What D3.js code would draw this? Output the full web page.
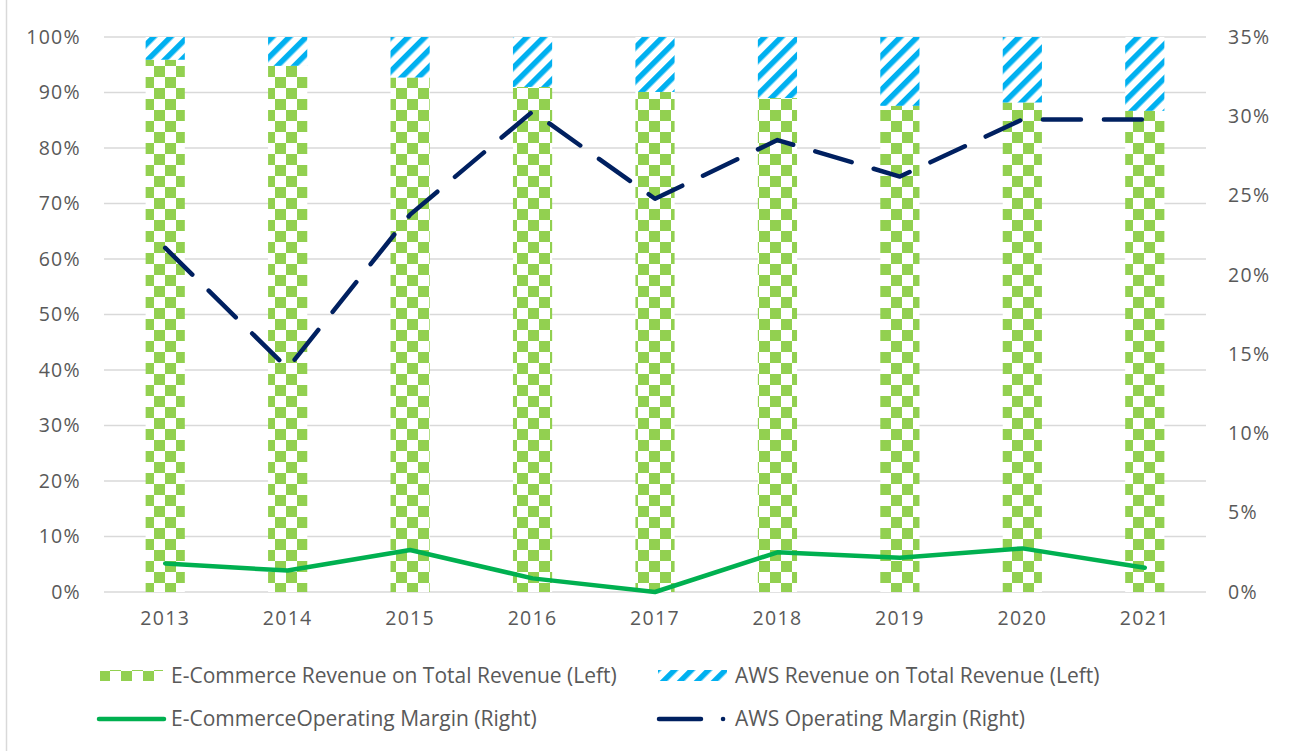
<!DOCTYPE html>
<html>
<head>
<meta charset="utf-8">
<script src="https://cdn.jsdelivr.net/npm/d3@7"></script>
<style>
  body { margin: 0; background: #fff; }
  svg text { font-family: "Open Sans", sans-serif; fill: #595959; }
</style>
</head>
<body>
<div id="chart"></div>
<script>
// données (en %)
const years = ["2013", "2014", "2015", "2016", "2017", "2018", "2019", "2020", "2021"];
const ecomShare = [95.9, 94.8, 92.7, 91.0, 90.1, 89.0, 87.6, 88.2, 86.7];
const awsShare = [4.1, 5.2, 7.3, 9.0, 9.9, 11.0, 12.4, 11.8, 13.3];
const ecomMargin = [1.8, 1.35, 2.65, 0.86, 0.0, 2.5, 2.16, 2.75, 1.53];
const awsMargin = [21.7, 14.1, 23.8, 30.3, 24.8, 28.5, 26.2, 29.8, 29.8];
const leftTicks = [0, 10, 20, 30, 40, 50, 60, 70, 80, 90, 100];
const rightTicks = [0, 5, 10, 15, 20, 25, 30, 35];
const seriesNames = [
  "E-Commerce Revenue on Total Revenue (Left)",
  "AWS Revenue on Total Revenue (Left)",
  "E-CommerceOperating Margin (Right)",
  "AWS Operating Margin (Right)"
];

const width = 1290, height = 751;
const plot = { left: 104, right: 1206, top: 37, bottom: 592 };

const svg = d3.select("#chart").append("svg")
  .attr("width", width).attr("height", height);

// motifs de remplissage
const defs = svg.append("defs");
const checker = defs.append("pattern")
  .attr("id", "checker").attr("patternUnits", "userSpaceOnUse")
  .attr("width", 22).attr("height", 22);
checker.append("rect").attr("width", 22).attr("height", 22).attr("fill", "#fff");
checker.append("rect").attr("width", 11).attr("height", 11).attr("fill", "#92D050");
checker.append("rect").attr("x", 11).attr("y", 11).attr("width", 11).attr("height", 11).attr("fill", "#92D050");

const stripes = defs.append("pattern")
  .attr("id", "stripes").attr("patternUnits", "userSpaceOnUse")
  .attr("width", 12).attr("height", 12)
  .attr("patternTransform", "rotate(45)");
stripes.append("rect").attr("width", 12).attr("height", 12).attr("fill", "#fff");
stripes.append("rect").attr("width", 5.5).attr("height", 12).attr("fill", "#00B0F0");

// bordure gauche du cadre
svg.append("line").attr("x1", 6.5).attr("x2", 6.5).attr("y1", 0).attr("y2", height)
  .attr("stroke", "#d9d9d9").attr("stroke-width", 1.5);

const x = d3.scaleBand().domain(years).range([plot.left, plot.right])
  .paddingInner(0.68).paddingOuter(0.34);
const yL = d3.scaleLinear().domain([0, 100]).range([plot.bottom, plot.top]);
const yR = d3.scaleLinear().domain([0, 35]).range([plot.bottom, plot.top]);

// grille
svg.append("g").selectAll("line").data(leftTicks).join("line")
  .attr("x1", plot.left).attr("x2", plot.right)
  .attr("y1", d => yL(d)).attr("y2", d => yL(d))
  .attr("stroke", "#d9d9d9").attr("stroke-width", 1.5);

// axes
const axisL = svg.append("g").attr("transform", `translate(${plot.left},0)`)
  .call(d3.axisLeft(yL).tickValues(leftTicks).tickFormat(d => d + "%").tickSize(0).tickPadding(23));
const axisR = svg.append("g").attr("transform", `translate(${plot.right},0)`)
  .call(d3.axisRight(yR).tickValues(rightTicks).tickFormat(d => d + "%").tickSize(0).tickPadding(22));
const axisX = svg.append("g").attr("transform", `translate(0,${plot.bottom})`)
  .call(d3.axisBottom(x).tickSize(0).tickPadding(19));
[axisL, axisR, axisX].forEach(a => {
  a.select(".domain").remove();
  a.selectAll("text").attr("font-size", 19.5).attr("letter-spacing", 1.3)
    .style("fill", "#595959").attr("font-family", "'Open Sans', sans-serif");
});

// barres empilées
const bars = svg.append("g");
bars.selectAll("rect.ecom").data(years).join("rect").attr("class", "ecom")
  .attr("x", d => x(d)).attr("width", x.bandwidth())
  .attr("y", (d, i) => yL(ecomShare[i]))
  .attr("height", (d, i) => yL(0) - yL(ecomShare[i]))
  .attr("fill", "url(#checker)");
bars.selectAll("rect.aws").data(years).join("rect").attr("class", "aws")
  .attr("x", d => x(d)).attr("width", x.bandwidth())
  .attr("y", (d, i) => yL(ecomShare[i] + awsShare[i]))
  .attr("height", (d, i) => yL(ecomShare[i]) - yL(ecomShare[i] + awsShare[i]))
  .attr("fill", "url(#stripes)");

// courbes de marge
const cx = d => x(d) + x.bandwidth() / 2;
const lineR = d3.line().x(d => cx(d[0])).y(d => yR(d[1]));

svg.append("path")
  .datum(years.map((y, i) => [y, ecomMargin[i]]))
  .attr("fill", "none").attr("stroke", "#00B050").attr("stroke-width", 4.5)
  .attr("stroke-linejoin", "round").attr("stroke-linecap", "round")
  .attr("d", lineR);

svg.append("path")
  .datum(years.map((y, i) => [y, awsMargin[i]]))
  .attr("fill", "none").attr("stroke", "#002060").attr("stroke-width", 4.5)
  .attr("stroke-linejoin", "round").attr("stroke-linecap", "round")
  .attr("stroke-dasharray", "38 23")
  .attr("d", lineR);

// légende
const legend = svg.append("g").attr("font-size", 21);
const rows = [676, 719];
const cols = [{ sx: 100, tx: 171 }, { sx: 658, tx: 735 }];

function legendText(name, col, row) {
  legend.append("text").attr("x", cols[col].tx).attr("y", rows[row])
    .attr("dy", "0.35em").text(name);
}

legend.append("rect").attr("x", cols[0].sx).attr("y", rows[0] - 6)
  .attr("width", 63).attr("height", 11).attr("fill", "url(#checker)");
legendText(seriesNames[0], 0, 0);

legend.append("rect").attr("x", cols[1].sx).attr("y", rows[0] - 6)
  .attr("width", 69).attr("height", 11).attr("fill", "url(#stripes)");
legendText(seriesNames[1], 1, 0);

legend.append("line").attr("x1", 99).attr("x2", 164)
  .attr("y1", rows[1]).attr("y2", rows[1])
  .attr("stroke", "#00B050").attr("stroke-width", 4.5).attr("stroke-linecap", "round");
legendText(seriesNames[2], 0, 1);

legend.append("line").attr("x1", 659).attr("x2", 728)
  .attr("y1", rows[1]).attr("y2", rows[1])
  .attr("stroke", "#002060").attr("stroke-width", 4.5).attr("stroke-linecap", "round")
  .attr("stroke-dasharray", "42 22 0.1 20");
legendText(seriesNames[3], 1, 1);
</script>
</body>
</html>
